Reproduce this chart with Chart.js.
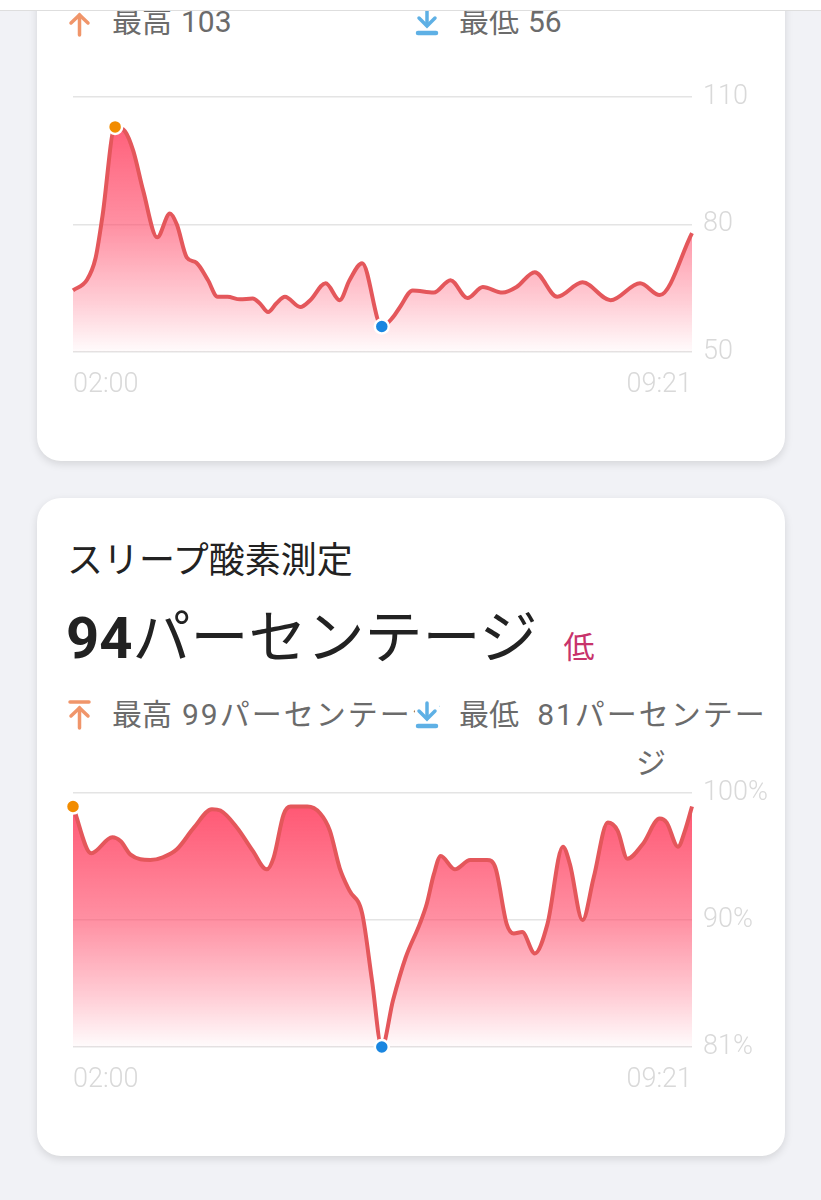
<!DOCTYPE html>
<html lang="ja">
<head>
<meta charset="utf-8">
<title>スリープ酸素測定</title>
<script src="https://cdn.jsdelivr.net/npm/chart.js@4.4.1/dist/chart.umd.min.js"></script>
<style>
  html, body {
    margin: 0;
    padding: 0;
  }
  body {
    width: 821px;
    height: 1200px;
    position: relative;
    overflow: hidden;
    background: #f1f2f6;
    font-family: Roboto, "Noto Sans CJK JP", sans-serif;
  }
  .topbar {
    position: absolute;
    left: 0; top: 0;
    width: 821px; height: 10px;
    background: #fff;
    border-bottom: 1px solid #dedede;
    z-index: 5;
  }
  .card {
    position: absolute;
    left: 37px;
    width: 748px;
    background: #fff;
    border-radius: 24px;
    box-shadow: 0 3px 8px rgba(0, 0, 0, 0.12);
  }
  .abs { position: absolute; }
  .title {
    left: 67px; top: 538px;
    font-size: 36px; line-height: 46px;
    color: #222;
  }
  .big {
    left: 66px; top: 602px;
    font-size: 58px; line-height: 72px;
    color: #222;
    white-space: nowrap;
    font-weight: 400;
  }
  .big b { font-weight: 700; }
  .big .tag {
    font-size: 31px;
    color: #c8336b;
    margin-left: 26px;
    font-weight: 400;
  }
  .stats {
    left: 67px;
    width: 705px;
    display: flex;
    font-size: 30px;
    line-height: 48px;
    color: #6b6b6b;
  }
  .stats .col { display: flex; align-items: flex-start; }
  .stats .left { width: 348px; white-space: nowrap; }
  .stats .right { flex: 1; }
  .stats svg { flex: none; margin-top: 9px; margin-right: 20px; }
  .stats .right svg { background: #fff; position: relative; z-index: 2; }
  .stats .val { margin-left: 10px; letter-spacing: 2px; }
  .stats .right .val { margin-left: 17px; width: 232px; text-align: center; }
  canvas { position: absolute; }
</style>
</head>
<body>
<div class="topbar"></div>
<div class="card" style="top:-40px;height:501px;"></div>
<div class="card" style="top:498px;height:658px;"></div>

<div class="abs stats" style="top:-2px;">
  <div class="col left">
    <svg width="25" height="30" viewBox="0 0 25 30"><g stroke="#f0956a" stroke-width="3.5" stroke-linecap="round" fill="none"><line x1="3" y1="2" x2="22" y2="2"/><line x1="12.5" y1="8" x2="12.5" y2="28"/><polyline points="4,16 12.5,8 21,16"/></g></svg>
    <span>最高</span><span style="margin-left:9px">103</span>
  </div>
  <div class="col right">
    <svg width="24" height="30" viewBox="0 0 24 30"><g stroke="#5eb0e5" stroke-width="3.5" stroke-linecap="round" fill="none"><line x1="12" y1="3" x2="12" y2="18"/><polyline points="4,11 12,19 20,11"/><line x1="3" y1="26" x2="21" y2="26" stroke-width="4.5"/></g></svg>
    <span>最低</span><span style="margin-left:9px">56</span>
  </div>
</div>

<div class="abs title">スリープ酸素測定</div>
<div class="abs big"><b>94</b>パーセンテージ<span class="tag">低</span></div>
<div class="abs stats" style="top:691px;">
  <div class="col left">
    <svg width="25" height="30" viewBox="0 0 25 30"><g stroke="#f0956a" stroke-width="3.5" stroke-linecap="round" fill="none"><line x1="3" y1="2" x2="22" y2="2"/><line x1="12.5" y1="8" x2="12.5" y2="28"/><polyline points="4,16 12.5,8 21,16"/></g></svg>
    <span>最高</span><span class="val">99パーセンテージ</span>
  </div>
  <div class="col right">
    <svg width="24" height="30" viewBox="0 0 24 30"><g stroke="#5eb0e5" stroke-width="3.5" stroke-linecap="round" fill="none"><line x1="12" y1="3" x2="12" y2="18"/><polyline points="4,11 12,19 20,11"/><line x1="3" y1="26" x2="21" y2="26" stroke-width="4.5"/></g></svg>
    <span>最低</span><span class="val">81パーセンテージ</span>
  </div>
</div>

<canvas id="hrChart" width="730" height="346" style="left:55px;top:70px;"></canvas>
<canvas id="spo2Chart" width="730" height="346" style="left:55px;top:766px;"></canvas>

<script>
// minutes after 02:00 (last point 09:21)
const xTickMinutes = [0, 441];
const xTickLabels = ['02:00', '09:21'];

// heart rate
const hrMinutes = [0, 10, 16, 21, 30, 37, 43, 50, 60, 69, 74, 81, 88, 96, 103, 110, 119, 128, 133, 139,
  145, 151, 162, 169, 180, 190, 197, 206, 220, 228, 233, 242, 257, 269, 281, 292, 306, 316, 329, 345,
  363, 383, 404, 418, 441];
const hrValues = [64.5, 67, 72, 82, 103, 102, 97.3, 88, 77, 82.6, 80, 72.3, 71, 67, 63, 63, 62.4, 62.6, 61.5, 59.4,
  61.5, 63, 60.6, 62.2, 66.2, 62.2, 66.9, 70.9, 56, 58.2, 60.6, 64.5, 64, 66.9, 62.7, 65.3, 64, 65.3, 68.8, 63,
  66.4, 62.2, 66.2, 63.4, 78];
const hrTickValues = [50, 80, 110];
const hrTickLabels = ['50', '80', '110'];

// blood oxygen
const spo2Minutes = [0, 13, 28, 34, 41, 55, 64, 74, 86, 99, 105, 117, 128, 138, 143, 150, 155, 167, 176, 183,
  190, 197, 206, 213, 220, 228, 237, 247, 252, 257, 262, 272, 283, 295, 301, 309, 314, 320, 329, 338,
  349, 354, 363, 371, 381, 388, 395, 406, 418, 423, 431, 436, 441];
const spo2Values = [99, 95.5, 96.7, 96.4, 95.4, 95, 95.2, 95.8, 97.4, 98.8, 98.7, 97.4, 95.7, 94.3, 95.2, 98.4, 99, 99, 98.5, 97.2,
  94.4, 92.7, 91, 86, 81, 84.5, 87.7, 90.2, 91.7, 93.9, 95.3, 94.3, 95, 95, 94.4, 90.2, 89.5, 89.6, 88, 90.2,
  96, 94.7, 90.5, 93.7, 97.8, 97.2, 95.1, 96.2, 98.1, 97.8, 96, 97.2, 99];
const spo2TickValues = [81, 90.5, 100];
const spo2TickLabels = ['81%', '90%', '100%'];

function fillGradient(context) {
    const chart = context.chart;
    const area = chart.chartArea;
    if (!area) return 'rgba(255, 80, 110, 0.5)';
    const g = chart.ctx.createLinearGradient(0, area.top, 0, area.bottom);
    g.addColorStop(0, 'rgba(255, 76, 106, 0.97)');
    g.addColorStop(0.5, 'rgba(255, 76, 106, 0.62)');
    g.addColorStop(0.8, 'rgba(255, 76, 106, 0.28)');
    g.addColorStop(1, 'rgba(255, 76, 106, 0.02)');
    return g;
}

function makeChart(id, minutes, values, tickValues, tickLabels, xHeight) {
    const points = minutes.map((m, i) => ({ x: m, y: values[i] }));
    const maxIdx = values.indexOf(Math.max(...values));
    const minIdx = values.indexOf(Math.min(...values));
    const tickFont = { family: 'Roboto', size: 27, weight: 300 };

    return new Chart(document.getElementById(id).getContext('2d'), {
        type: 'line',
        data: {
            datasets: [{
                data: points,
                borderColor: '#e4575b',
                borderWidth: 4,
                fill: 'start',
                backgroundColor: fillGradient,
                cubicInterpolationMode: 'monotone',
                clip: false,
                pointRadius: ctx => (ctx.dataIndex === maxIdx || ctx.dataIndex === minIdx) ? 7 : 0,
                pointBackgroundColor: ctx => ctx.dataIndex === maxIdx ? '#f28c00' : '#1a86e0',
                pointBorderColor: '#fff',
                pointBorderWidth: 2.5
            }]
        },
        options: {
            responsive: false,
            animation: false,
            layout: { padding: { left: 18, top: 15, right: 0, bottom: 0 } },
            plugins: { legend: { display: false }, tooltip: { enabled: false } },
            scales: {
                x: {
                    type: 'linear',
                    min: minutes[0],
                    max: minutes[minutes.length - 1],
                    grid: { display: false },
                    border: { display: false },
                    afterBuildTicks: scale => { scale.ticks = xTickMinutes.map(v => ({ value: v })); },
                    afterFit: scale => { scale.height = xHeight; },
                    ticks: {
                        autoSkip: false,
                        maxRotation: 0,
                        align: 'inner',
                        padding: 9,
                        color: '#d9d9d9',
                        font: tickFont,
                        callback: (v, i) => xTickLabels[i]
                    }
                },
                y: {
                    position: 'right',
                    min: tickValues[0],
                    max: tickValues[tickValues.length - 1],
                    grid: { color: '#e4e4e4', lineWidth: 1.5, drawTicks: false },
                    border: { display: false },
                    afterBuildTicks: scale => { scale.ticks = tickValues.map(v => ({ value: v })); },
                    afterFit: scale => { scale.width = 93; },
                    ticks: {
                        padding: 11,
                        color: '#d9d9d9',
                        font: tickFont,
                        callback: (v, i) => tickLabels[i]
                    }
                }
            }
        }
    });
}

document.addEventListener('DOMContentLoaded', () => {
    makeChart('hrChart', hrMinutes, hrValues, hrTickValues, hrTickLabels, 64);
    makeChart('spo2Chart', spo2Minutes, spo2Values, spo2TickValues, spo2TickLabels, 65);
});
</script>
</body>
</html>
